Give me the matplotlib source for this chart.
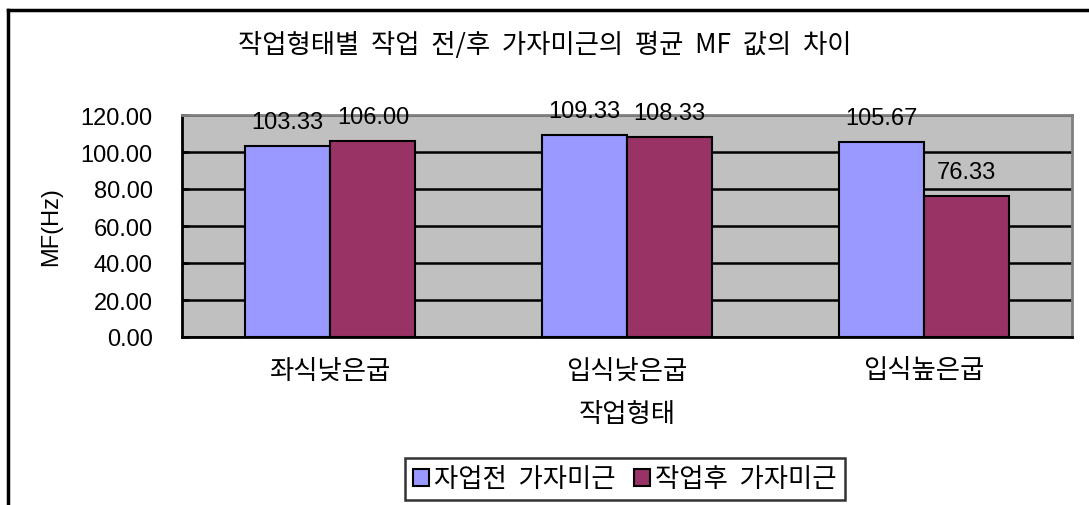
import numpy as np
import matplotlib.pyplot as plt

plt.rcParams['font.family'] = ['Noto Sans CJK KR', 'DejaVu Sans']

categories = ['좌식낮은굽', '입식낮은굽', '입식높은굽']
before = [103.33, 109.33, 105.67]
after = [106.00, 108.33, 76.33]
series_names = ['자업전  가자미근', '작업후  가자미근']
yticks = [0, 20, 40, 60, 80, 100, 120]
title = '작업형태별  작업  전/후  가자미근의  평균  MF  값의  차이'

fig = plt.figure(figsize=(10.89, 5.06), dpi=100)
# outer chart frame (cropped at right/bottom like the original)
fig.add_artist(plt.Line2D([8/1089, 8/1089], [0, 1 - 11/506], color='black', lw=2.5, transform=fig.transFigure))
fig.add_artist(plt.Line2D([8/1089, 1], [1 - 11/506, 1 - 11/506], color='black', lw=2.5, transform=fig.transFigure))

ax = fig.add_axes([182/1089, 1 - 338/506, 890/1089, 222/506])
ax.set_facecolor('#C0C0C0')

x = np.arange(len(categories))
w = 0.287
b1 = ax.bar(x - w/2, before, w, color='#9999FF', edgecolor='black', lw=1.5, zorder=3, label=series_names[0])
b2 = ax.bar(x + w/2, after, w, color='#993366', edgecolor='black', lw=1.5, zorder=3, label=series_names[1])

num_font = ['Liberation Sans', 'DejaVu Sans']
for bars, vals in [(b1, before), (b2, after)]:
    for r, v in zip(bars, vals):
        ax.annotate(f'{v:.2f}', (r.get_x() + r.get_width()/2, v), xytext=(0, 9),
                    textcoords='offset points', ha='center', va='bottom',
                    fontsize=17, family=num_font, zorder=4)

ax.set_xlim(-0.5, 2.5)
ax.set_ylim(0, 120)
ax.set_yticks(yticks)
ax.set_yticklabels([f'{t:.2f}' for t in yticks], family=num_font, fontsize=17)
ax.yaxis.grid(True, color='black', lw=1.8, zorder=1)
ax.set_axisbelow(True)
ax.tick_params(axis='y', length=5, width=1.8, direction='in', pad=21)
ax.set_xticks(x)
ax.set_xticklabels(categories, fontsize=19)
ax.tick_params(axis='x', length=0, pad=14)

for s in ['top', 'right']:
    ax.spines[s].set_color('#808080')
    ax.spines[s].set_linewidth(2)
for s in ['left', 'bottom']:
    ax.spines[s].set_color('black')
    ax.spines[s].set_linewidth(2)

ax.set_xlabel('작업형태', fontsize=19, labelpad=12)
ax.set_ylabel('MF(Hz)', fontsize=17, family=num_font)
ax.yaxis.set_label_coords(-(182 - 62) / 890, 0.5)

fig.text(545/1089, 1 - 45/506, title, ha='center', va='center', fontsize=19)

leg = fig.legend(loc='center', bbox_to_anchor=(625/1089, 1 - 480/506), ncol=2,
                 fontsize=19, frameon=True, fancybox=False, edgecolor='black',
                 handlelength=0.6, handleheight=0.6, handletextpad=0.2, columnspacing=0.7,
                 borderpad=0.3, borderaxespad=0)
leg.get_frame().set_linewidth(1.8)

fig.savefig('out.png', dpi=100)
